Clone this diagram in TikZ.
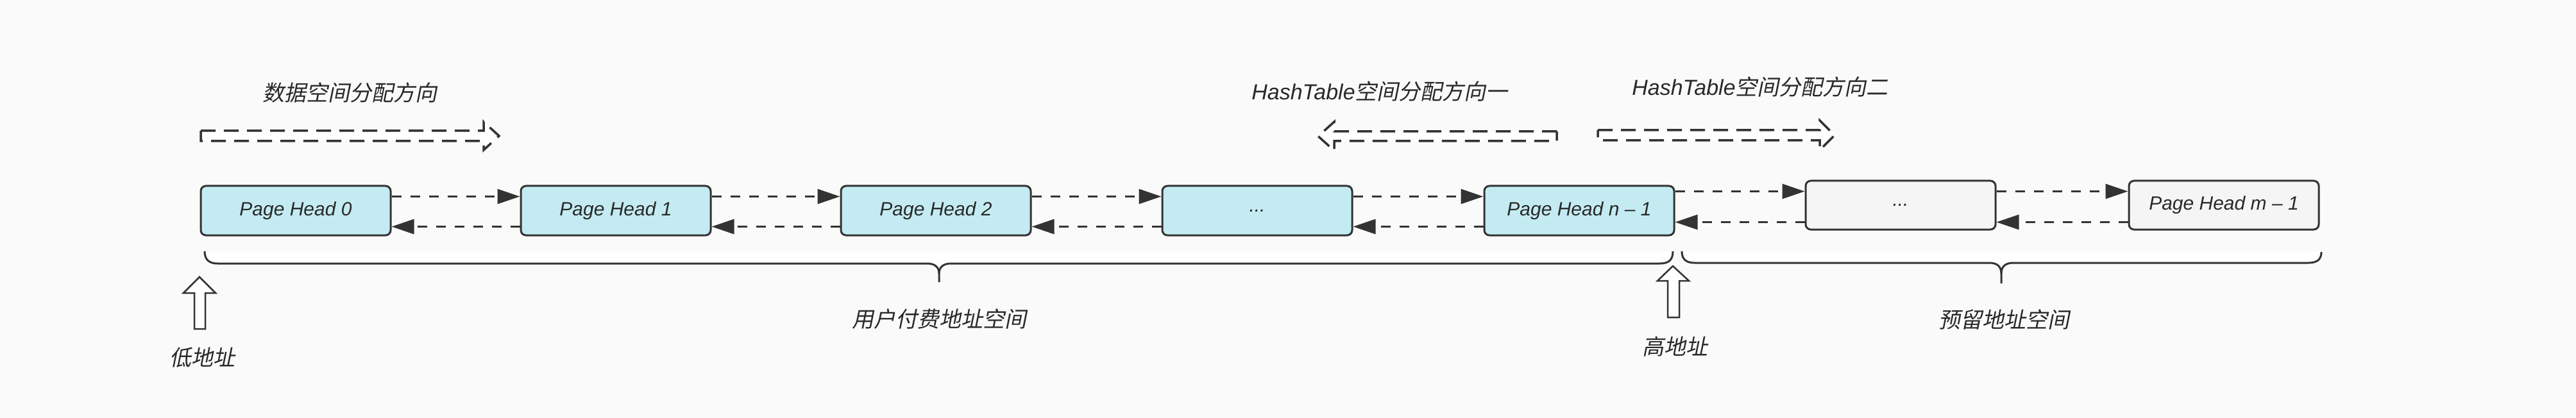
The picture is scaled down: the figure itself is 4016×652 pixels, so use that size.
\documentclass[tikz,border=0pt]{standalone}
\usepackage{fontspec}
\setmainfont{Liberation Sans}
\newfontfamily\cjk{Noto Sans CJK SC}[FakeSlant=0.2]
\usetikzlibrary{arrows.meta,calc}
\definecolor{bgc}{HTML}{FAFAFA}
\definecolor{ln}{HTML}{333333}
\definecolor{boxblue}{HTML}{C4EBF2}
\definecolor{boxgray}{HTML}{F5F5F5}
\tikzset{
  pbox/.style={draw=ln, line width=3pt, rounded corners=8pt, minimum width=296pt,
    minimum height=77pt, inner sep=0pt, text=ln!80!black,
    font=\fontsize{30pt}{36pt}\selectfont\itshape},
  bluebox/.style={pbox, fill=boxblue},
  graybox/.style={pbox, fill=boxgray, minimum height=76pt},
  conn/.style={draw=ln, line width=3pt, dash pattern=on 15pt off 14pt,
    -{Triangle[length=35pt,width=23pt]}, color=ln},
  harrow/.style={draw=ln, fill=white, line width=3.5pt, dash pattern=on 23pt off 13pt},
  uparrow/.style={draw=ln, fill=white, line width=2.5pt, line join=miter},
  bracepath/.style={draw=ln, line width=3pt},
  lbl/.style={inner sep=0pt, text=ln!80!black, font=\fontsize{34pt}{40pt}\selectfont\cjk}
}
\begin{document}
\begin{tikzpicture}[x=1pt,y=-1pt]
\fill[bgc] (0,0) rectangle (4016,652);
\useasboundingbox (0,0) rectangle (4016,652);

% braces background bands
\fill[white] (319,392) rectangle (2608,411);
\fill[white] (2622,392) rectangle (3619,410);

% boxes
\node[bluebox] (b0) at (461,328.5) {Page Head 0};
\node[bluebox] (b1) at (960,328.5) {Page Head 1};
\node[bluebox] (b2) at (1459,328.5) {Page Head 2};
\node[bluebox] (b3) at (1960,328.5) {...};
\node[bluebox] (b4) at (2462,328.5) {Page Head n -- 1};
\node[graybox] (g0) at (2963,320) {...};
\node[graybox] (g1) at (3467,320) {Page Head m -- 1};

% connectors
\foreach \a/\b in {b0/b1,b1/b2,b2/b3,b3/b4} {
  \draw[conn] ($(\a.north east)+(0,18)$) -- ($(\b.north west)+(0,18)$);
  \draw[conn] ($(\b.south west)+(0,-15)$) -- ($(\a.south east)+(0,-15)$);
}
\coordinate (t1) at ($(g0.north west)+(0,18)$);
\coordinate (t2) at ($(g0.south west)+(0,-13)$);
\draw[conn] (b4.east |- t1) -- (t1);
\draw[conn] (t2) -- (b4.east |- t2);
\draw[conn] ($(g0.north east)+(0,18)$) -- ($(g1.north west)+(0,18)$);
\draw[conn] ($(g1.south west)+(0,-13)$) -- ($(g0.south east)+(0,-13)$);

% hollow dashed direction arrows
\draw[harrow] (313,204) -- (754,204) -- (754,190) -- (778,212) -- (754,234) -- (754,220) -- (313,220) -- cycle;
\draw[harrow] (2427,205) -- (2080,205) -- (2080,190) -- (2055,212.5) -- (2080,235) -- (2080,220) -- (2427,220) -- cycle;
\draw[harrow] (2491,203) -- (2837,203) -- (2837,188) -- (2860,211) -- (2837,234) -- (2837,219) -- (2491,219) -- cycle;

% direction labels
\node[lbl] (d1) at (545,145) {数据空间分配方向};
\node[lbl] (d2) at (2151,143) {{\rmfamily\itshape HashTable}空间分配方向一};
\node[lbl] (d3) at (2744,136) {{\rmfamily\itshape HashTable}空间分配方向二};

% braces
\draw[bracepath] (319,392) .. controls (319,405) and (326,411) .. (339,411) -- (1445,411)
  .. controls (1458,411) and (1464,417) .. (1464,427) -- (1464,440);
\draw[bracepath] (1464,427) .. controls (1464,417) and (1470,411) .. (1483,411) -- (2588,411)
  .. controls (2602,411) and (2608,405) .. (2608,392);
\draw[bracepath] (2622,392) .. controls (2622,404) and (2628,410) .. (2642,410) -- (3101,410)
  .. controls (3114,410) and (3120,416) .. (3120,427) -- (3120,442);
\draw[bracepath] (3120,427) .. controls (3120,416) and (3126,410) .. (3139,410) -- (3599,410)
  .. controls (3613,410) and (3619,404) .. (3619,393);

\node[lbl] (s1) at (1464,498) {用户付费地址空间};
\node[lbl] (s2) at (3124,498) {预留地址空间};

% up arrows
\draw[uparrow] (303,513) -- (303,457) -- (286,457) -- (311,432) -- (336,457) -- (320,457) -- (320,513) -- cycle;
\draw[uparrow] (2600,495) -- (2600,438) -- (2584,438) -- (2608,415) -- (2633,438) -- (2618,438) -- (2618,495) -- cycle;

\node[lbl] (lo) at (315,558) {低地址};
\node[lbl] (hi) at (2611,541) {高地址};
\end{tikzpicture}
\end{document}
